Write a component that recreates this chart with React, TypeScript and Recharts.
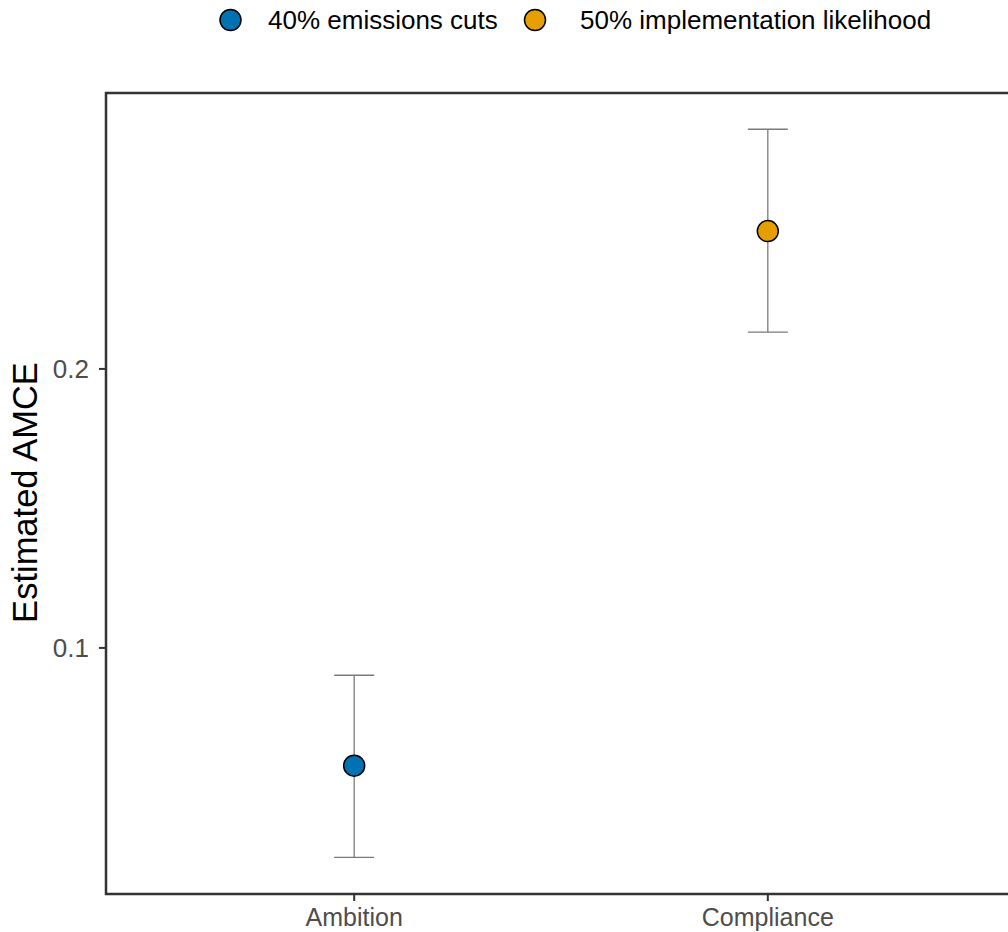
import React from 'react';
import { ComposedChart, Scatter, XAxis, YAxis, ErrorBar, ReferenceArea, Label } from 'recharts';

const categories = ['Ambition', 'Compliance'];
const seriesNames = ['40% emissions cuts', '50% implementation likelihood'];
const seriesColors = ['#0072B2', '#E69F00'];
const estimates = [0.0578, 0.2494];
const lowerBounds = [0.0249, 0.2132];
const upperBounds = [0.0902, 0.2859];
const yTicks = [0.1, 0.2];
const yTickLabels = ['0.1', '0.2'];
const xDomain = [-0.6, 1.6];
const yDomain = [0.0118, 0.2989];

const FONT = '"Liberation Sans", Arial, Helvetica, sans-serif';

// legend layout (pixel positions of the legend keys and labels)
const legendCircleX = [230.5, 535];
const legendTextX = [268, 580];

const seriesData = categories.map((c, i) => [
  {
    x: i,
    y: estimates[i],
    err: [estimates[i] - lowerBounds[i], upperBounds[i] - estimates[i]],
  },
]);

const Dot = (color: string) => (props: any) => {
  const { cx, cy } = props;
  if (cx == null || cy == null) return <g />;
  return <circle cx={cx} cy={cy} r={10.5} fill={color} stroke="#000" strokeWidth={1.5} />;
};

const Empty = () => <g />;

const YLabel = (props: any) => {
  const vb = props.viewBox || {};
  const cy = (vb.y ?? 0) + (vb.height ?? 0) / 2 - 1;
  const cx = 25;
  return (
    <text
      x={cx}
      y={cy}
      transform={`rotate(-90, ${cx}, ${cy})`}
      textAnchor="middle"
      dominantBaseline="central"
      fontSize={34.5}
      fontFamily={FONT}
      fill="#000"
    >
      Estimated AMCE
    </text>
  );
};

export default function App() {
  return (
    <div
      style={{
        position: 'absolute',
        left: 0,
        top: 0,
        width: 1008,
        height: 932,
        overflow: 'hidden',
        background: '#fff',
        fontFamily: FONT,
      }}
    >
      <svg width={1008} height={45} style={{ position: 'absolute', left: 0, top: 0 }}>
        {seriesNames.map((n, i) => (
          <g key={n}>
            <circle cx={legendCircleX[i]} cy={20} r={10.5} fill={seriesColors[i]} stroke="#000" strokeWidth={1.5} />
            <text
              x={legendTextX[i]}
              y={20}
              dominantBaseline="central"
              fontSize={26}
              fontFamily={FONT}
              fill="#000"
            >
              {n}
            </text>
          </g>
        ))}
      </svg>
      <ComposedChart
        width={1040}
        height={932}
        margin={{ top: 93, right: 24, bottom: 1, left: 6 }}
        style={{ position: 'absolute', left: 0, top: 0 }}
      >
        <XAxis
          type="number"
          dataKey="x"
          domain={xDomain}
          ticks={[0, 1]}
          tickFormatter={(v: number) => categories[v] ?? ''}
          axisLine={false}
          tickLine={{ stroke: '#333', strokeWidth: 2 }}
          tickSize={7}
          tickMargin={7}
          height={37}
          tick={{ fontSize: 25, fill: '#4d4d4d', fontFamily: FONT }}
          allowDataOverflow
        />
        <YAxis
          type="number"
          dataKey="y"
          domain={yDomain}
          ticks={yTicks}
          tickFormatter={(v: number) => yTickLabels[yTicks.indexOf(v)] ?? String(v)}
          axisLine={false}
          tickLine={{ stroke: '#333', strokeWidth: 2 }}
          tickSize={7}
          tickMargin={10}
          width={100}
          tick={{ fontSize: 26, fill: '#4d4d4d', fontFamily: FONT }}
          allowDataOverflow
        >
          <Label content={YLabel} />
        </YAxis>
        {seriesData.map((d, i) => (
          <Scatter
            key={`pt-${i}`}
            name={seriesNames[i]}
            data={d}
            fill={seriesColors[i]}
            shape={Dot(seriesColors[i])}
            isAnimationActive={false}
          />
        ))}
        {seriesData.map((d, i) => (
          <Scatter key={`eb-${i}`} data={d} shape={Empty} isAnimationActive={false} legendType="none">
            <ErrorBar dataKey="err" direction="y" width={20} stroke="#7a7a7a" strokeWidth={1.3} isAnimationActive={false} />
          </Scatter>
        ))}
        <ReferenceArea
          x1={xDomain[0]}
          x2={xDomain[1]}
          y1={yDomain[0]}
          y2={yDomain[1]}
          fill="none"
          fillOpacity={0}
          stroke="#333"
          strokeWidth={2.5}
          ifOverflow="visible"
        />
      </ComposedChart>
    </div>
  );
}
